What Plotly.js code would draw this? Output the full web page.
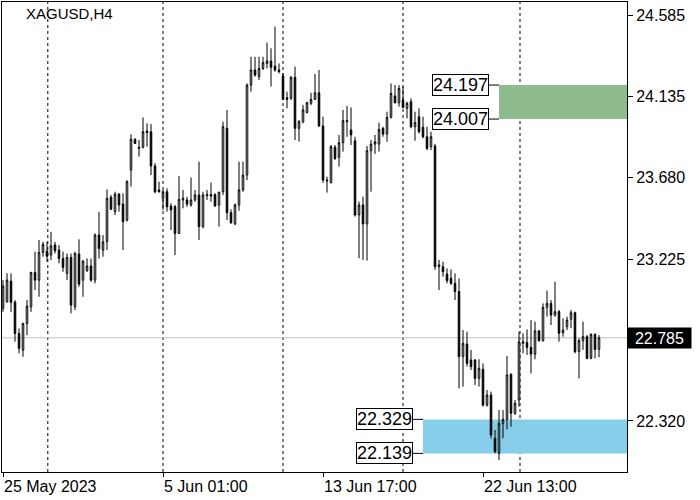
<!DOCTYPE html>
<html>
<head>
<meta charset="utf-8">
<script src="https://cdn.plot.ly/plotly-3.0.1.min.js"></script>
<style>
html,body{margin:0;padding:0;background:#fff;}
#chart{width:700px;height:500px;}
</style>
</head>
<body>
<div id="chart"></div>
<script>
// ---- Data: XAGUSD H4 candles ----
const symbolTitle = "XAGUSD,H4";
const openPrices = [
22.949,22.986,23.102,22.983,22.809,22.716,22.865,22.958,23.150,23.107,
23.262,23.269,23.247,23.303,23.275,23.228,23.145,23.234,22.958,23.253,
23.107,23.159,23.186,23.107,23.359,23.275,23.322,23.570,23.490,23.588,
23.532,23.443,23.722,23.894,23.843,23.849,23.940,23.936,23.745,23.611,
23.564,23.601,23.521,23.517,23.368,23.555,23.555,23.527,23.555,23.583,
23.406,23.579,23.585,23.585,23.527,23.601,23.955,23.484,23.421,23.527,
23.611,23.694,24.197,24.281,24.244,24.290,24.318,24.331,24.303,24.281,
24.247,24.126,24.123,24.240,23.955,23.992,24.043,24.095,24.117,24.154,
23.968,23.666,23.651,23.849,23.793,23.875,23.992,23.946,23.886,23.471,
23.527,23.421,23.830,23.867,23.867,23.955,23.923,24.016,24.136,24.098,
24.113,24.067,24.104,23.964,24.020,23.961,23.908,23.853,23.856,23.182,
23.182,23.141,23.117,23.089,23.043,22.680,22.750,22.661,22.661,22.558,
22.609,22.409,22.465,22.223,22.139,22.307,22.329,22.581,22.363,22.437,
22.754,22.758,22.732,22.694,22.823,22.769,22.955,22.977,22.912,22.931,
22.813,22.847,22.888,22.925,22.707,22.769,22.791,22.670,22.804,22.720];
const highPrices = [
23.107,23.145,23.145,22.996,22.837,22.869,22.996,23.154,23.266,23.331,
23.321,23.321,23.377,23.321,23.303,23.266,23.256,23.256,23.266,23.335,
23.219,23.228,23.228,23.368,23.489,23.359,23.614,23.583,23.601,23.592,
23.592,23.666,23.922,23.899,23.890,24.016,23.983,23.979,23.760,23.657,
23.611,23.620,23.536,23.527,23.689,23.611,23.573,23.681,23.611,23.769,
23.601,23.611,23.652,23.592,23.601,23.992,24.058,23.503,23.536,23.769,
23.769,24.206,24.355,24.355,24.355,24.355,24.434,24.402,24.523,24.318,
24.262,24.160,24.247,24.300,24.002,24.086,24.104,24.154,24.259,24.281,
24.020,23.685,23.862,23.862,23.918,24.058,24.080,24.072,23.908,23.545,
23.573,23.856,23.890,23.918,23.987,23.964,24.048,24.206,24.197,24.197,
24.188,24.104,24.123,24.048,24.067,24.020,23.964,23.936,23.868,23.220,
23.210,23.173,23.167,23.145,23.117,22.828,22.819,22.717,22.665,22.665,
22.642,22.493,22.484,22.270,22.381,22.381,22.683,22.586,22.437,22.819,
22.810,22.832,22.884,22.875,22.828,22.977,23.048,22.996,23.098,22.940,
22.894,22.903,22.940,22.931,22.782,22.875,22.800,22.810,22.810,22.800];
const lowPrices = [
22.930,22.981,22.930,22.763,22.698,22.679,22.800,22.930,23.051,23.014,
23.238,23.210,23.219,23.256,23.201,23.154,23.107,22.921,22.940,23.070,
23.014,23.154,23.098,23.089,23.228,23.238,23.275,23.499,23.471,23.490,
23.275,23.434,23.629,23.868,23.797,23.843,23.853,23.694,23.592,23.596,
23.499,23.490,23.387,23.247,23.365,23.508,23.517,23.517,23.545,23.331,
23.396,23.555,23.545,23.517,23.406,23.583,23.443,23.421,23.415,23.495,
23.601,23.666,24.160,24.244,24.225,24.281,24.290,24.188,24.272,24.262,
24.113,24.067,24.113,23.890,23.881,23.983,24.039,24.085,24.113,23.964,
23.651,23.596,23.648,23.778,23.741,23.825,23.908,23.862,23.462,23.229,
23.220,23.216,23.601,23.812,23.825,23.908,23.880,24.011,24.095,24.076,
24.067,24.011,23.955,23.886,23.927,23.899,23.834,23.834,23.164,23.052,
23.126,23.089,23.080,22.996,22.503,22.512,22.624,22.605,22.521,22.512,
22.400,22.400,22.223,22.139,22.102,22.223,22.273,22.288,22.354,22.400,
22.698,22.689,22.586,22.665,22.763,22.763,22.903,22.856,22.903,22.763,
22.791,22.828,22.838,22.698,22.558,22.717,22.665,22.665,22.670,22.676];
const closePrices = [
23.074,23.107,22.983,22.809,22.726,22.865,22.962,23.150,23.107,23.262,
23.307,23.241,23.299,23.271,23.228,23.178,23.234,22.968,23.256,23.085,
23.213,23.186,23.107,23.359,23.284,23.321,23.564,23.503,23.588,23.527,
23.434,23.657,23.894,23.871,23.849,23.936,23.931,23.745,23.601,23.601,
23.601,23.517,23.499,23.368,23.558,23.564,23.532,23.555,23.583,23.406,
23.583,23.585,23.577,23.521,23.598,23.964,23.484,23.428,23.527,23.611,
23.694,24.197,24.281,24.253,24.290,24.322,24.331,24.296,24.281,24.272,
24.117,24.117,24.240,23.955,23.992,24.058,24.098,24.117,24.154,23.968,
23.666,23.662,23.853,23.787,23.875,23.998,23.998,23.918,23.471,23.527,
23.421,23.830,23.867,23.880,23.949,23.923,24.016,24.150,24.098,24.178,
24.072,24.095,23.964,23.987,23.936,23.908,23.843,23.908,23.182,23.192,
23.154,23.104,23.089,23.043,22.680,22.754,22.642,22.624,22.558,22.614,
22.409,22.465,22.242,22.149,22.307,22.329,22.577,22.363,22.419,22.763,
22.763,22.732,22.694,22.823,22.769,22.955,22.977,22.912,22.931,22.810,
22.828,22.884,22.925,22.707,22.769,22.791,22.670,22.804,22.720,22.785];

// time axis labels (bar index where each label starts)
const timeLabelBars = [0, 40, 80, 120];
const timeLabels = ["25 May 2023", "5 Jun 01:00", "13 Jun 17:00", "22 Jun 13:00"];
// vertical separator grid (bar index)
const gridBars = [11.2, 40, 70, 100, 129.25];
// price axis labels
const priceTicks = [24.585, 24.135, 23.680, 23.225, 22.320];
const currentPrice = 22.785;
// zones
const resistanceZone = [24.007, 24.197];
const supportZone = [22.139, 22.329];

const bars = openPrices.map((_, i) => i);
const FONT = "'Liberation Sans', Arial, sans-serif";

const trace = {
  type: 'candlestick',
  x: bars,
  open: openPrices, high: highPrices, low: lowPrices, close: closePrices,
  increasing: {line: {color: '#000', width: 1}, fillcolor: '#fff'},
  decreasing: {line: {color: '#000', width: 1}, fillcolor: '#000'},
  whiskerwidth: 0,
  hoverinfo: 'skip',
  showlegend: false
};

const shapes = [];
gridBars.forEach(b => shapes.push({
  type: 'line', xref: 'x', yref: 'paper', x0: b, x1: b, y0: 0, y1: 1,
  line: {color: '#000', width: 1, dash: '3px,3px'}, layer: 'below'
}));
shapes.push({type: 'line', xref: 'paper', yref: 'y', x0: 0, x1: 1, y0: currentPrice, y1: currentPrice,
  line: {color: '#c0c0c0', width: 1}, layer: 'below'});
shapes.push({type: 'rect', xref: 'x', yref: 'y', x0: 124, x1: 156, y0: resistanceZone[0], y1: resistanceZone[1],
  fillcolor: '#8fbc8f', line: {width: 0}, layer: 'below'});
shapes.push({type: 'rect', xref: 'x', yref: 'y', x0: 105, x1: 156, y0: supportZone[0], y1: supportZone[1],
  fillcolor: '#87ceeb', line: {width: 0}, layer: 'below'});
// connectors from labels to zones
[[resistanceZone, 121.5, 124], [supportZone, 102.5, 105]].forEach(([zone, a, b]) => {
  zone.forEach(v => shapes.push({type: 'line', xref: 'x', yref: 'y', x0: a, x1: b, y0: v, y1: v,
    line: {color: '#000', width: 1}}));
});

const annotations = [];
[[resistanceZone, 121.5], [supportZone, 102.5]].forEach(([zone, xr]) => {
  zone.forEach(v => annotations.push({
    xref: 'x', yref: 'y', x: xr, y: v, xanchor: 'right', yanchor: 'middle',
    text: v.toFixed(3), showarrow: false,
    font: {family: FONT, size: 18, color: '#000'},
    bgcolor: '#fff', bordercolor: '#000', borderwidth: 1, borderpad: 0
  }));
});
annotations.push({
  xref: 'paper', yref: 'y', x: 1, y: currentPrice, xanchor: 'left', yanchor: 'middle',
  text: currentPrice.toFixed(3), showarrow: false, width: 61, height: 18, align: 'center',
  font: {family: FONT, size: 16, color: '#fff'}, bgcolor: '#000', borderpad: 1
});

const layout = {
  width: 700, height: 500,
  margin: {l: 2, r: 73, t: 2, b: 28},
  paper_bgcolor: '#fff', plot_bgcolor: '#fff',
  showlegend: false, hovermode: false,
  boxgap: 0.45,
  title: {text: symbolTitle, font: {family: FONT, size: 15, color: '#000'},
    xref: 'paper', x: 0.0384, xanchor: 'left', yref: 'container', y: 0.973, yanchor: 'middle'},
  xaxis: {
    range: [-0.25, 156], showgrid: false, zeroline: false,
    showline: true, mirror: true, linecolor: '#000', linewidth: 1,
    tickmode: 'array', tickvals: timeLabelBars, ticktext: timeLabels,
    ticks: 'outside', ticklen: 4, tickcolor: '#000',
    ticklabelposition: 'outside right',
    tickfont: {family: FONT, size: 16, color: '#000'},
    rangeslider: {visible: false}, fixedrange: true
  },
  yaxis: {
    side: 'right', range: [22.035, 24.661], showgrid: false, zeroline: false,
    showline: true, mirror: true, linecolor: '#000', linewidth: 1,
    tickmode: 'array', tickvals: priceTicks, ticktext: priceTicks.map(v => v.toFixed(3)),
    ticks: 'outside', ticklen: 5, tickcolor: '#000',
    tickfont: {family: FONT, size: 16, color: '#000'}, fixedrange: true
  },
  shapes: shapes,
  annotations: annotations
};

Plotly.newPlot('chart', [trace], layout, {displayModeBar: false, staticPlot: true});
</script>
</body>
</html>
